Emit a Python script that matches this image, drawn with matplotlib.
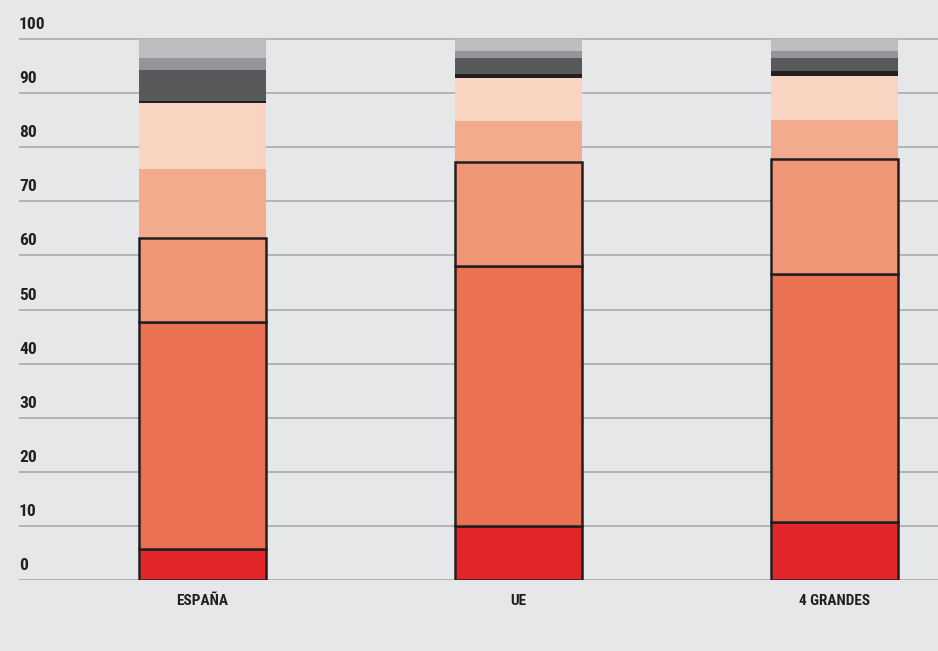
import matplotlib
matplotlib.use("Agg")
import matplotlib.pyplot as plt
import numpy as np

# share (%) of each band, bottom to top
categories = ["ESPAÑA", "UE", "4 GRANDES"]
seg_red = [5.7, 10.0, 10.7]
seg_orange = [41.9, 48.1, 45.9]
seg_salmon = [15.7, 19.1, 21.3]
seg_light_salmon = [12.7, 7.6, 7.2]
seg_peach = [12.2, 8.0, 8.1]
seg_black = [0.4, 0.8, 0.8]
seg_dark_gray = [5.7, 2.9, 2.5]
seg_mid_gray = [2.2, 1.3, 1.3]
seg_light_gray = [3.5, 2.2, 2.2]
y_ticks = [0, 10, 20, 30, 40, 50, 60, 70, 80, 90, 100]

segments = [
    (seg_red, "#e3262a", True),
    (seg_orange, "#ea7152", True),
    (seg_salmon, "#f09778", True),
    (seg_light_salmon, "#f3ab8e", False),
    (seg_peach, "#f8d4c1", False),
    (seg_black, "#231f20", False),
    (seg_dark_gray, "#58595b", False),
    (seg_mid_gray, "#939598", False),
    (seg_light_gray, "#bcbec0", False),
]

plt.rcParams["font.family"] = ["Roboto Condensed", "DejaVu Sans Condensed",
                               "Liberation Sans Narrow", "Liberation Sans", "DejaVu Sans"]
bg = "#e6e7e8"

W, H = 938, 651
fig = plt.figure(figsize=(W / 100, H / 100), dpi=100, facecolor=bg)

px_per_unit = 5.41
y0_px = 71            # distance of the zero line from the bottom
left_px = 19
ymax = 104
ax = fig.add_axes([left_px / W, y0_px / H, (W - left_px) / W, ymax * px_per_unit / H])
ax.set_facecolor(bg)

spacing = 316.0
x = np.arange(len(categories))
ax.set_xlim((left_px - 202.5) / spacing, (W - 202.5) / spacing)
ax.set_ylim(0, ymax)

for v in y_ticks:
    ax.axhline(v, color="#a3a5a8", lw=1.1, zorder=1)
    ax.annotate(str(v), xy=(0, v), xycoords=("axes fraction", "data"),
                xytext=(0, 5), textcoords="offset points",
                ha="left", va="bottom", fontsize=12.5, fontweight="bold",
                color="#231f20")

width = 127 / spacing
bottom = np.zeros(len(categories))
for vals, col, outlined in segments:
    vals = np.array(vals)
    if outlined:
        ax.bar(x, vals, width, bottom=bottom, color=col, edgecolor="#231f20",
               linewidth=1.8, zorder=3)
    else:
        ax.bar(x, vals, width, bottom=bottom, color=col, linewidth=0, zorder=2)
    bottom += vals

ax.set_xticks(x)
ax.set_xticklabels(categories, fontsize=11, fontweight="bold", color="#231f20")
ax.tick_params(axis="x", length=0, pad=10)
ax.set_yticks([])
for s in ax.spines.values():
    s.set_visible(False)

fig.savefig("out.png", dpi=100, facecolor=bg)
